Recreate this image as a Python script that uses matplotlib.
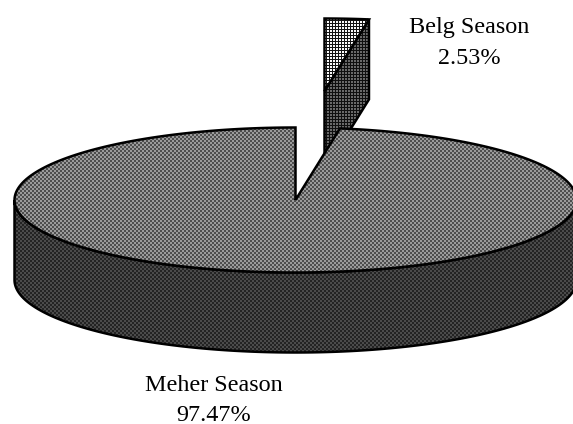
import numpy as np
import matplotlib
matplotlib.use("Agg")
import matplotlib.pyplot as plt
from matplotlib.patches import Polygon

categories = ["Belg Season", "Meher Season"]
shares = [2.53, 97.47]
labels = ["2.53%", "97.47%"]

W, H = 573, 424
CX, CY, A, B, DEPTH = 295.5, 200.0, 281.0, 72.5, 80.0
OFFX, OFFY = 29.0, -109.0

fig = plt.figure(figsize=(W / 100, H / 100), dpi=100)
ax = fig.add_axes([0, 0, 1, 1])
ax.set_xlim(0, W)
ax.set_ylim(H, 0)
ax.axis("off")


def checker(dark, light):
    t = np.full((4, 4), float(dark))
    t[0:2, 0:2] = light
    t[2:4, 2:4] = light
    return t


def grid(dark, light):
    t = np.full((3, 3), float(dark))
    t[0:2, 0:2] = light
    return t


def textured(poly, patt):
    n = patt.shape[0]
    reps = np.tile(patt, (H // n + 1, W // n + 1))[:H, :W]
    im = ax.imshow(reps, cmap="gray", vmin=0, vmax=255, extent=(0, W, H, 0),
                   interpolation="nearest", zorder=poly.get_zorder(), aspect="auto")
    ax.add_patch(poly)
    im.set_clip_path(poly)
    outline = Polygon(poly.get_xy(), closed=True, fill=False, ec="black", lw=1.8,
                      joinstyle="miter", zorder=poly.get_zorder() + 0.1)
    ax.add_patch(outline)


def rim(t0, t1, cx=CX, cy=CY, dy=0.0, n=240):
    # angles measured clockwise from 12 o'clock, in degrees
    t = np.radians(np.linspace(t0, t1, n))
    return np.c_[cx + A * np.sin(t), cy - B * np.cos(t) + dy]


slice_deg = shares[0] / sum(shares) * 360

# exploded slice
ax0 = CX + OFFX
ay0 = CY + OFFY
arc = rim(0, slice_deg, ax0, ay0)
apex = np.array([[ax0, ay0]])
side = np.vstack([apex, arc[-1:], arc[-1:] + [0, DEPTH], apex + [0, DEPTH]])
textured(Polygon(side, closed=True, fc="none", ec="none", zorder=2), grid(15, 105))
top = np.vstack([apex, arc])
textured(Polygon(top, closed=True, fc="none", ec="none", zorder=3), grid(20, 250))

# main pie
front = rim(90, 270)
body = np.vstack([front, front[::-1] + [0, DEPTH]])
textured(Polygon(body, closed=True, fc="none", ec="none", zorder=4), checker(35, 75))
main = np.vstack([[[CX, CY]], rim(slice_deg, 360)])
textured(Polygon(main, closed=True, fc="none", ec="none", zorder=5), checker(78, 155))

font = dict(family="Liberation Serif", fontsize=17.4, ha="center", va="baseline", color="black", zorder=8)
ax.text(469, 33, categories[0], **font)
ax.text(469, 64, labels[0], **font)
ax.text(214, 391, categories[1], **font)
ax.text(214, 421, labels[1], **font)

fig.savefig("out.png", dpi=100)
